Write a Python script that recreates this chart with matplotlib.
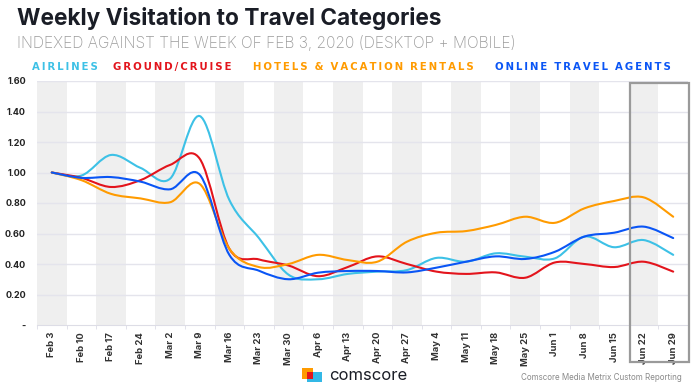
import numpy as np
import matplotlib
matplotlib.use("Agg")
import matplotlib.pyplot as plt
from matplotlib.path import Path
from matplotlib.patches import PathPatch, Rectangle

plt.rcParams['font.family'] = ['Inter', 'DejaVu Sans']

weeks = ['Feb 3', 'Feb 10', 'Feb 17', 'Feb 24', 'Mar 2', 'Mar 9', 'Mar 16', 'Mar 23',
         'Mar 30', 'Apr 6', 'Apr 13', 'Apr 20', 'Apr 27', 'May 4', 'May 11', 'May 18',
         'May 25', 'Jun 1', 'Jun 8', 'Jun 15', 'Jun 22', 'Jun 29']

airlines = [1.00, 0.98, 1.115, 1.03, 0.96, 1.37, 0.82, 0.57, 0.33, 0.30, 0.335, 0.35,
            0.36, 0.44, 0.415, 0.47, 0.448, 0.437, 0.58, 0.51, 0.557, 0.46]
ground = [1.00, 0.965, 0.905, 0.95, 1.05, 1.09, 0.50, 0.43, 0.39, 0.32, 0.38, 0.45,
          0.40, 0.35, 0.335, 0.345, 0.31, 0.41, 0.40, 0.38, 0.415, 0.35]
hotels = [1.00, 0.95, 0.86, 0.83, 0.805, 0.925, 0.50, 0.38, 0.40, 0.46, 0.426, 0.415,
          0.546, 0.605, 0.616, 0.656, 0.71, 0.67, 0.765, 0.813, 0.837, 0.71]
online = [1.00, 0.965, 0.97, 0.94, 0.89, 0.985, 0.46, 0.356, 0.30, 0.343, 0.354, 0.354,
          0.345, 0.376, 0.415, 0.45, 0.433, 0.48, 0.58, 0.605, 0.645, 0.57]

series = [
    ('AIRLINES', airlines, '#3dc1e6'),
    ('GROUND/CRUISE', ground, '#e3141c'),
    ('HOTELS & VACATION RENTALS', hotels, '#ff9b00'),
    ('ONLINE TRAVEL AGENTS', online, '#0a55f5'),
]
yticks = [0, 0.2, 0.4, 0.6, 0.8, 1.0, 1.2, 1.4, 1.6]
ytick_labels = ['-', '0.20', '0.40', '0.60', '0.80', '1.00', '1.20', '1.40', '1.60']


def smooth_path(x, y):
    # catmull-rom through the points, as cubic bezier segments
    pts = np.column_stack([x, y]).astype(float)
    n = len(pts)
    verts = [pts[0]]
    codes = [Path.MOVETO]
    for i in range(n - 1):
        p0 = pts[max(i - 1, 0)]
        p1 = pts[i]
        p2 = pts[i + 1]
        p3 = pts[min(i + 2, n - 1)]
        c1 = p1 + (p2 - p0) / 6.0
        c2 = p2 - (p3 - p1) / 6.0
        verts += [c1, c2, p2]
        codes += [Path.CURVE4] * 3
    return Path(verts, codes)


fig = plt.figure(figsize=(7, 3.91), dpi=100)
ax = fig.add_axes([37 / 700, 1 - 325 / 391, 651 / 700, 244 / 391])

x = np.arange(len(weeks))
for i in x[::2]:
    ax.axvspan(i - 0.5, i + 0.5, color='#efefef', lw=0, zorder=0)
for v in yticks[1:]:
    ax.axhline(v, color='#e4e4ec', lw=1, zorder=1)

for name, vals, col in series:
    ax.add_patch(PathPatch(smooth_path(x, vals), fill=False, edgecolor=col, lw=1.5,
                           zorder=3, capstyle='round'))

ax.set_xlim(-0.5, len(weeks) - 0.5)
ax.set_ylim(0, 1.6)
ax.set_xticks(x)
ax.set_xticklabels(weeks, rotation=90, fontsize=6.8, fontweight='bold', color='#333333')
ax.set_xticks(np.arange(-0.5, len(weeks)), minor=True)
ax.set_yticks(yticks)
ax.set_yticklabels(ytick_labels, fontsize=6.5, fontweight='bold', color='#222222')
ax.tick_params(axis='x', which='major', length=0, pad=5)
ax.tick_params(axis='x', which='minor', length=3, color='#dddde6')
ax.tick_params(axis='y', length=0, pad=8)
for s in ['top', 'right', 'left']:
    ax.spines[s].set_visible(False)
ax.spines['bottom'].set_color('#dddde6')

# highlight box around the last two weeks
fig.patches.append(Rectangle((630 / 700, 1 - 362 / 391), 59 / 700, 279 / 391,
                             transform=fig.transFigure, fill=False,
                             edgecolor='#9a9a9a', lw=1.6, zorder=5))

fig.text(17 / 700, 1 - 18 / 391, 'Weekly Visitation to Travel Categories', fontsize=16.3,
         fontweight='bold', color='#1a1d26', va='center')
fig.text(17 / 700, 1 - 43 / 391, 'INDEXED AGAINST THE WEEK OF FEB 3, 2020 (DESKTOP + MOBILE)',
         fontsize=11.2, fontweight='light', color='#9b9b9b', va='center')

leg_x = [32, 113, 253, 495]
for (name, vals, col), lx in zip(series, leg_x):
    spaced = '\u2009'.join(name).replace('\u2009 \u2009', '  ')
    fig.text(lx / 700, 1 - 67 / 391, spaced, fontsize=7.3, fontweight='bold',
             color=col, va='center', family=['DejaVu Sans'])

# comscore logo
fig.patches.append(Rectangle((302 / 700, 1 - 379 / 391), 11 / 700, 11 / 391,
                             transform=fig.transFigure, color='#ff9b00', lw=0))
fig.patches.append(Rectangle((307 / 700, 1 - 382 / 391), 15 / 700, 10 / 391,
                             transform=fig.transFigure, color='#33b8e6', lw=0))
fig.patches.append(Rectangle((307 / 700, 1 - 379 / 391), 6 / 700, 7 / 391,
                             transform=fig.transFigure, color='#e3141c', lw=0))
fig.text(329 / 700, 1 - 376 / 391, 'comscore', fontsize=12, color='#1a1d26', va='center')
fig.text(682 / 700, 1 - 378 / 391, 'Comscore Media Metrix Custom Reporting', fontsize=5.8,
         color='#8a8a8a', va='center', ha='right')

fig.savefig('out.png', dpi=100)
